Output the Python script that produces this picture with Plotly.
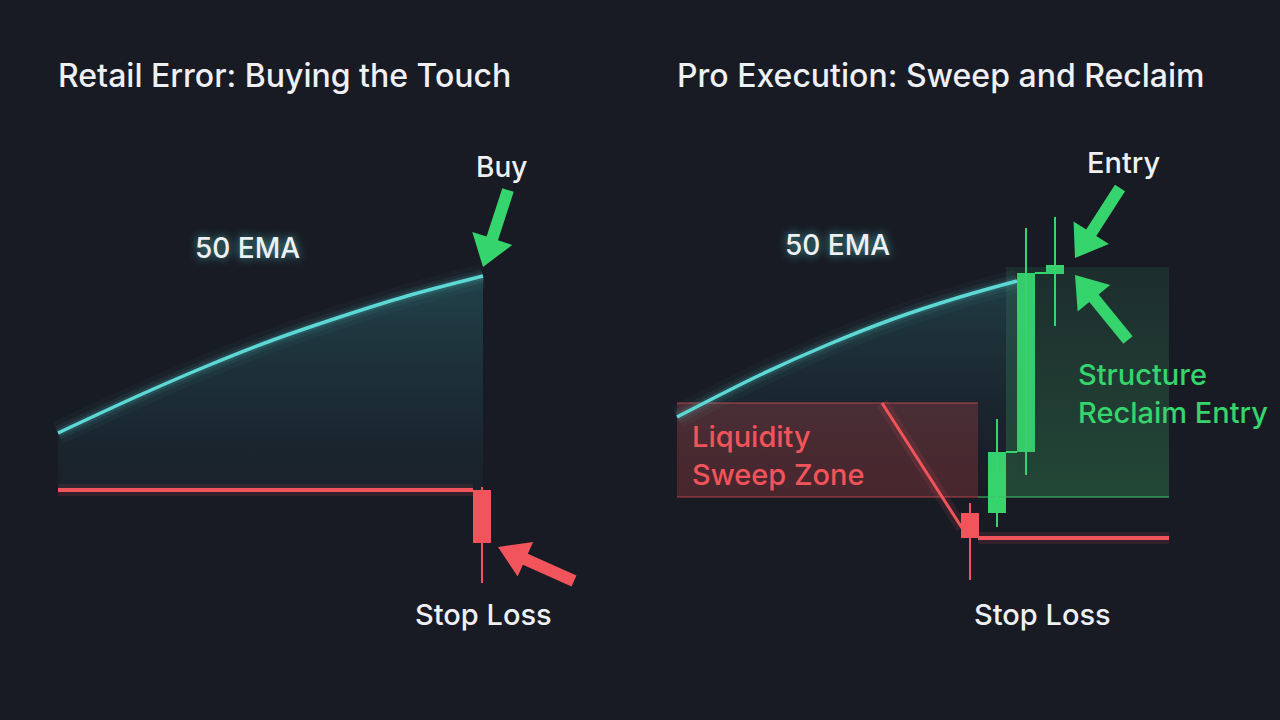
import numpy as np
import plotly.graph_objects as go

BG = "#181b24"
CYAN = "#5cd8d5"
RED = "#f2545b"
GREEN = "#36d46d"
WHITE = "#eef0f4"
FONT = "Inter"

# ---------------- data (time units on x, price units on y) ----------------
# Panel 1: retail error
ema1_t = [58, 140, 207, 273, 340, 407, 483]
ema1_p = [287, 325, 354, 380, 403, 424, 444]
stop1_t = [58, 473]
stop1_p = [230, 230]
c1_t = [482]
c1_open = [230]
c1_close = [177]
c1_high = [233]
c1_low = [137]

# Panel 2: pro execution
ema2_t = [677, 760, 827, 893, 960, 1017]
ema2_p = [303, 345, 375, 401, 423, 439]
liq_t = [677, 978]
liq_p = [223, 317]
green_zone_t = [1006, 1169]
green_zone_p = [223, 453]
sweep_t = [882, 962]
sweep_p = [317, 192]
stop2_t = [978, 1169]
stop2_p = [182, 182]
base2_t = [978, 1169]
base2_p = [223, 223]
red2_t = [970]
red2_open = [207]
red2_close = [182]
red2_high = [217]
red2_low = [140]
grn_t = [997, 1026, 1055]
grn_open = [207, 268, 446]
grn_close = [268, 447, 455]
grn_high = [301, 492, 503]
grn_low = [193, 245, 394]
body_w = 18

# arrows: (tail_t, tail_p, tip_t, tip_p)
arrows = [
    (508, 530, 483, 453, GREEN, 42),
    (574, 139, 498, 173, RED, 38),
    (1120, 532, 1075, 462, GREEN, 42),
    (1128, 380, 1075, 445, GREEN, 42),
]

fig = go.Figure()


def add_line(x, y, color, width, shape="linear"):
    fig.add_trace(go.Scatter(x=x, y=y, mode="lines", hoverinfo="skip",
                             line=dict(color=color, width=width, shape=shape)))


def add_poly(x, y, color, gradient=None):
    kw = dict(fillgradient=gradient) if gradient else dict(fillcolor=color)
    fig.add_trace(go.Scatter(x=x, y=y, mode="lines", fill="toself",
                             line=dict(width=0, color="rgba(0,0,0,0)"),
                             hoverinfo="skip", **kw))


def area(xt, yt, base, gradient):
    fig.add_trace(go.Scatter(x=[xt[0], xt[-1]], y=[base, base], mode="lines",
                             line=dict(width=0, color="rgba(0,0,0,0)"), hoverinfo="skip"))
    fig.add_trace(go.Scatter(x=xt, y=yt, mode="lines", fill="tonexty", fillgradient=gradient,
                             line=dict(width=0, color="rgba(0,0,0,0)", shape="spline"),
                             hoverinfo="skip"))


def rect(t, p):
    return [t[0], t[1], t[1], t[0], t[0]], [p[0], p[0], p[1], p[1], p[0]]


# EMA shaded areas
area(ema1_t, ema1_p, stop1_p[0],
     dict(type="vertical", colorscale=[[0, "rgba(40,110,120,0.07)"], [1, "rgba(60,175,180,0.26)"]]))
area(ema2_t, ema2_p, liq_p[0],
     dict(type="vertical", colorscale=[[0, "rgba(40,110,120,0.0)"], [1, "rgba(60,175,180,0.22)"]]))

# Zones
lx, ly = rect(liq_t, liq_p)
add_poly(lx, ly, "rgba(214,72,74,0.25)")
add_line(liq_t, [liq_p[1]] * 2, "rgba(242,84,91,0.45)", 1.5)
add_line(liq_t, [liq_p[0]] * 2, "rgba(242,84,91,0.45)", 1.5)
gx, gy = rect(green_zone_t, green_zone_p)
add_poly(gx, gy, None, dict(type="vertical",
                            colorscale=[[0, "rgba(60,175,100,0.30)"], [1, "rgba(60,160,100,0.14)"]]))
add_line(base2_t, base2_p, "rgba(60,190,105,0.55)", 2)

# EMA lines with glow
for et, ep in ((ema1_t, ema1_p), (ema2_t, ema2_p)):
    add_line(et, ep, "rgba(92,216,213,0.04)", 24, "spline")
    add_line(et, ep, "rgba(92,216,213,0.07)", 14, "spline")
    add_line(et, ep, "rgba(92,216,213,0.12)", 8, "spline")
    add_line(et, ep, CYAN, 3.5, "spline")

# Red lines
for xs, ys, w in ((stop1_t, stop1_p, 4), (stop2_t, stop2_p, 4), (sweep_t, sweep_p, 3)):
    add_line(xs, ys, "rgba(242,84,91,0.12)", 12)
    add_line(xs, ys, RED, w)


# Candles
def candles(t, o, c, h, l, color, connect=False):
    wx, wy = [], []
    for ti, hi, li in zip(t, h, l):
        wx += [ti, ti, None]
        wy += [li, hi, None]
    add_line(wx, wy, color, 2)
    fig.add_trace(go.Bar(x=t, base=[min(a, b) for a, b in zip(o, c)],
                         y=[abs(b - a) for a, b in zip(o, c)], width=body_w,
                         marker=dict(color=color, line=dict(width=0)), hoverinfo="skip"))
    if connect:
        cx, cy = [], []
        for i in range(len(t) - 1):
            cx += [t[i] + body_w / 2, t[i + 1] - body_w / 2, None]
            cy += [c[i], c[i], None]
        add_line(cx, cy, color, 2)


candles(c1_t, c1_open, c1_close, c1_high, c1_low, RED)
candles(red2_t, red2_open, red2_close, red2_high, red2_low, RED)
candles(grn_t, grn_open, grn_close, grn_high, grn_low, GREEN, connect=True)


# Arrows
def arrow_poly(tail, tip, shaft=12, head_w=42, head_l=30):
    tail = np.array(tail, float)
    tip = np.array(tip, float)
    d = tip - tail
    u = d / np.linalg.norm(d)
    n = np.array([-u[1], u[0]])
    b = tip - u * head_l
    pts = [tail + n * shaft / 2, b + n * shaft / 2, b + n * head_w / 2, tip,
           b - n * head_w / 2, b - n * shaft / 2, tail - n * shaft / 2, tail + n * shaft / 2]
    return [p[0] for p in pts], [p[1] for p in pts]


for tt, tp, ht, hp, col, hw in arrows:
    ax_, ay_ = arrow_poly((tt, tp), (ht, hp), head_w=hw)
    add_poly(ax_, ay_, col)


# Text
def label(text, x, y, color=WHITE, size=28, xanchor="center", shadow=None, weight=500):
    f = dict(family=FONT, size=size, color=color, weight=weight)
    if shadow:
        f["shadow"] = shadow
    fig.add_annotation(x=x, y=y, text=text, showarrow=False, xanchor=xanchor,
                       yanchor="middle", font=f, align="left")


label("Retail Error: Buying the Touch", 56, 645, size=32, xanchor="left")
label("Pro Execution: Sweep and Reclaim", 675, 645, size=32, xanchor="left")
glow = "0 0 10px rgba(92,216,213,0.75)"
label("50 EMA", 247, 472, shadow=glow)
label("50 EMA", 837, 475, shadow=glow)
label("Buy", 501, 553)
label("Stop Loss", 483, 106, size=29)
label("Stop Loss", 1042, 106, size=29)
label("Entry", 1123, 558, size=29)
label("Liquidity<br>Sweep Zone", 690, 265, color=RED, size=29, xanchor="left")
label("Structure<br>Reclaim Entry", 1076, 327, color=GREEN, size=29, xanchor="left")

fig.update_layout(
    width=1280, height=720,
    margin=dict(l=0, r=0, t=0, b=0),
    paper_bgcolor=BG, plot_bgcolor=BG,
    showlegend=False, barmode="overlay",
    xaxis=dict(range=[0, 1280], visible=False, fixedrange=True),
    yaxis=dict(range=[0, 720], visible=False, fixedrange=True),
)
fig.write_html("out.html", config={"displayModeBar": False},
               post_script="document.body.style.margin='0';document.body.style.background='%s';" % BG)
